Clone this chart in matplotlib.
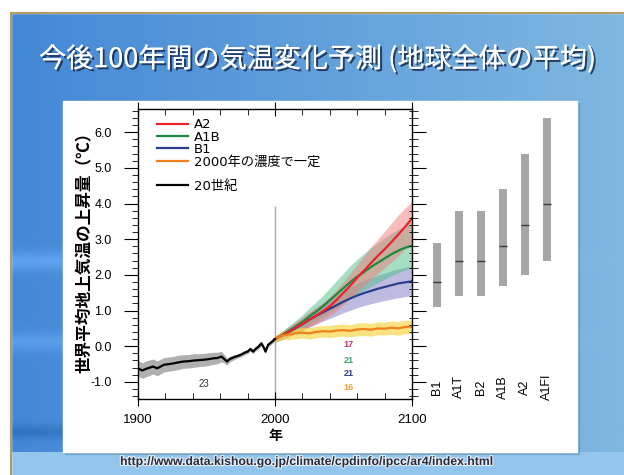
import numpy as np
import matplotlib
matplotlib.use("Agg")
import matplotlib.pyplot as plt
from matplotlib.patches import Rectangle
from matplotlib.ticker import MultipleLocator, FormatStrFormatter
import matplotlib.patheffects as pe

plt.rcParams['font.family'] = ['Liberation Sans', 'Noto Sans CJK JP']

# 20世紀の観測値 (1980-1999年平均からの偏差)
hist_years = [1900, 1903, 1907, 1911, 1914, 1919, 1923, 1926, 1930, 1933, 1937, 1941,
              1945, 1948, 1952, 1955, 1958, 1961, 1963, 1965, 1967, 1970, 1973, 1975,
              1978, 1980, 1982, 1984, 1986, 1988, 1990, 1992, 1993, 1995, 1997, 2000]
hist_mean = [-0.62, -0.68, -0.62, -0.57, -0.62, -0.52, -0.50, -0.48, -0.45, -0.43, -0.42, -0.40,
             -0.39, -0.38, -0.36, -0.34, -0.33, -0.29, -0.36, -0.43, -0.36, -0.31, -0.27, -0.24,
             -0.18, -0.15, -0.08, -0.15, -0.07, -0.01, 0.08, -0.05, -0.15, 0.04, 0.10, 0.20]
hist_spread = [0.22, 0.22, 0.22, 0.21, 0.21, 0.20, 0.20, 0.20, 0.20, 0.19, 0.19, 0.19,
               0.18, 0.18, 0.18, 0.17, 0.16, 0.15, 0.12, 0.10, 0.08, 0.07, 0.06, 0.06,
               0.06, 0.06, 0.06, 0.06, 0.06, 0.06, 0.06, 0.06, 0.06, 0.06, 0.06, 0.06]

# シナリオ別予測 (5年毎)
proj_years = [2000, 2005, 2010, 2015, 2020, 2025, 2030, 2035, 2040, 2045, 2050,
              2055, 2060, 2065, 2070, 2075, 2080, 2085, 2090, 2095, 2100]
a2_mean = [0.20, 0.30, 0.40, 0.52, 0.63, 0.75, 0.86, 0.98, 1.12, 1.30, 1.50,
           1.70, 1.92, 2.12, 2.33, 2.53, 2.72, 2.92, 3.13, 3.35, 3.58]
a2_low = [0.12, 0.18, 0.26, 0.36, 0.44, 0.54, 0.63, 0.74, 0.86, 1.00, 1.17,
          1.34, 1.52, 1.70, 1.87, 2.04, 2.20, 2.36, 2.54, 2.72, 2.92]
a2_high = [0.28, 0.40, 0.53, 0.67, 0.80, 0.95, 1.09, 1.23, 1.39, 1.59, 1.82,
           2.05, 2.30, 2.53, 2.78, 3.00, 3.22, 3.45, 3.68, 3.88, 4.05]
a1b_mean = [0.20, 0.31, 0.43, 0.55, 0.68, 0.83, 0.97, 1.12, 1.29, 1.46, 1.63,
            1.80, 1.95, 2.08, 2.22, 2.34, 2.46, 2.58, 2.68, 2.76, 2.82]
a1b_low = [0.12, 0.20, 0.29, 0.38, 0.48, 0.59, 0.70, 0.82, 0.95, 1.08, 1.21,
           1.34, 1.46, 1.57, 1.68, 1.78, 1.88, 1.98, 2.06, 2.14, 2.20]
a1b_high = [0.28, 0.42, 0.57, 0.72, 0.88, 1.07, 1.24, 1.42, 1.63, 1.84, 2.05,
            2.26, 2.44, 2.60, 2.76, 2.90, 3.04, 3.17, 3.28, 3.38, 3.46]
b1_mean = [0.20, 0.30, 0.40, 0.50, 0.62, 0.74, 0.85, 0.95, 1.05, 1.15, 1.25,
           1.34, 1.42, 1.49, 1.55, 1.61, 1.66, 1.71, 1.76, 1.79, 1.82]
b1_low = [0.12, 0.19, 0.27, 0.35, 0.44, 0.53, 0.62, 0.70, 0.78, 0.86, 0.94,
          1.01, 1.08, 1.14, 1.19, 1.24, 1.28, 1.32, 1.36, 1.39, 1.42]
b1_high = [0.28, 0.41, 0.53, 0.66, 0.80, 0.94, 1.08, 1.20, 1.32, 1.44, 1.56,
           1.67, 1.77, 1.85, 1.92, 1.99, 2.05, 2.11, 2.17, 2.21, 2.25]
commit_mean = [0.20, 0.30, 0.33, 0.36, 0.38, 0.36, 0.40, 0.42, 0.41, 0.44, 0.45,
               0.43, 0.47, 0.48, 0.46, 0.50, 0.49, 0.52, 0.50, 0.54, 0.55]
commit_spread = [0.08, 0.12, 0.14, 0.15, 0.15, 0.16, 0.16, 0.16, 0.17, 0.17, 0.17,
                 0.17, 0.18, 0.18, 0.18, 0.18, 0.18, 0.19, 0.19, 0.19, 0.19]

# モデル数
model_counts = [17, 21, 21, 16]
hist_count = 23

# 2100年の予測幅 (棒グラフ)
scen_names = ['B1', 'A1T', 'B2', 'A1B', 'A2', 'A1FI']
scen_best = [1.8, 2.4, 2.4, 2.8, 3.4, 4.0]
scen_low = [1.1, 1.4, 1.4, 1.7, 2.0, 2.4]
scen_high = [2.9, 3.8, 3.8, 4.4, 5.4, 6.4]

W, H = 624, 475
fig = plt.figure(figsize=(W / 100, H / 100), dpi=100)

# スライドの背景
bg = fig.add_axes([0, 0, 1, 1])
xx = np.linspace(0, 1, W)[None, :, None]
yy = np.linspace(0, 1, H)[:, None, None]
left_c = np.array([0.26, 0.53, 0.84])
right_c = np.array([0.50, 0.72, 0.88])
img = left_c * (1 - xx) + right_c * xx + 0.0 * yy
img = img + 0.10 * np.exp(-((yy - 0.55) / 0.02) ** 2) * (1 - xx)
img = img + 0.08 * np.exp(-((yy - 0.72) / 0.02) ** 2) * (1 - xx)
img = img - 0.08 * np.exp(-((yy - 0.91) / 0.015) ** 2) * (1 - xx)
img = np.where(yy > 452 / H, np.array([0.58, 0.78, 0.93]), img)
img = np.clip(img, 0, 1)
bg.imshow(img, extent=[0, W, H, 0], aspect='auto')
bg.add_patch(Rectangle((0, 0), W, 13, color='white'))
bg.add_patch(Rectangle((0, 0), 11, H, color='white'))
bg.plot([11, 11], [13, H], color='#b39b62', lw=1.5)
bg.plot([11, W], [13, 13], color='#b39b62', lw=1.5)
bg.add_patch(Rectangle((65, 103), 514, 351, color='#5a7fa0', alpha=0.35))
bg.add_patch(Rectangle((63, 101), 514, 351, color='white'))
bg.set_xlim(0, W)
bg.set_ylim(H, 0)
bg.axis('off')

bg.text(318, 59, '今後100年間の気温変化予測 (地球全体の平均)', color='white',
        fontsize=19.5, ha='center', va='center', family=['Noto Sans CJK JP'],
        path_effects=[pe.withSimplePatchShadow(offset=(1.5, -1.5), shadow_rgbFace='#1c2f55', alpha=0.9),
                      pe.Normal()])
bg.text(308, 462, 'http://www.data.kishou.go.jp/climate/cpdinfo/ipcc/ar4/index.html',
        color='#2a2a3a', fontsize=8.8, ha='center', va='center', weight='bold',
        path_effects=[pe.withStroke(linewidth=1.5, foreground='#e8f2fa')])

# 気温の推移
ax = fig.add_axes([138 / W, (H - 399) / H, 274 / W, 290 / H])
ax.set_facecolor('none')
ax.fill_between(hist_years, np.array(hist_mean) - hist_spread, np.array(hist_mean) + hist_spread,
                color='#8f8f8f', alpha=0.7, lw=0)
ax.fill_between(proj_years, b1_low, b1_high, color='#8886c8', alpha=0.55, lw=0)
ax.fill_between(proj_years, a1b_low, a1b_high, color='#4cbf86', alpha=0.5, lw=0)
ax.fill_between(proj_years, a2_low, a2_high, color='#f07c7c', alpha=0.5, lw=0)
ax.fill_between(proj_years, np.array(commit_mean) - commit_spread, np.array(commit_mean) + commit_spread,
                color='#f6d84a', alpha=0.7, lw=0)

ax.plot(proj_years, b1_mean, color='#2b3e8c', lw=1.6)
ax.plot(proj_years, a1b_mean, color='#1b8a3f', lw=1.6)
ax.plot(proj_years, a2_mean, color='#e8232b', lw=1.6)
ax.plot(proj_years, commit_mean, color='#f07f1c', lw=1.6)
ax.plot(hist_years, hist_mean, color='black', lw=1.6)

ax.axvline(2000, ymax=(3.9 + 1.48) / (6.65 + 1.48), color='#a8a8a8', lw=1.0, zorder=0)

ax.set_xlim(1900, 2100)
ax.set_ylim(-1.48, 6.65)
ax.set_xticks([1900, 2000, 2100])
ax.xaxis.set_minor_locator(MultipleLocator(20))
ax.yaxis.set_major_locator(MultipleLocator(1.0))
ax.yaxis.set_minor_locator(MultipleLocator(0.2))
ax.yaxis.set_major_formatter(FormatStrFormatter('%.1f'))
ax.set_yticks(np.arange(-1, 6.5, 1.0))
ax.tick_params(axis='x', which='major', direction='inout', length=10, top=True, bottom=True,
               labelsize=9.5, pad=6)
ax.tick_params(axis='x', which='minor', direction='in', length=4, top=True, bottom=True)
ax.tick_params(axis='y', which='major', direction='out', length=10, left=True, right=True,
               labelsize=9, pad=9)
ax.tick_params(axis='y', which='minor', direction='out', length=4, left=True, right=True)
for s in ax.spines.values():
    s.set_linewidth(1.0)

ax.set_xlabel('年', fontsize=10, weight='bold', labelpad=2)
ax.set_ylabel('世界平均地上気温の上昇量（℃）', fontsize=12, weight='bold')
ax.yaxis.set_label_coords(-0.165, 0.52)

cnt_colors = ['#c8345a', '#3aa870', '#2f3f80', '#f0a030']
cnt_y = [0.04, -0.40, -0.76, -1.15]
for n, c, yv in zip(model_counts, cnt_colors, cnt_y):
    ax.text(2054, yv, str(n), color=c, fontsize=6.5, ha='center', va='center', weight='bold')
ax.text(1948, -1.06, str(hist_count), color='#333333', fontsize=7, ha='center', va='center')

# 凡例
leg_prop = {'family': ['DejaVu Sans', 'Noto Sans CJK JP'], 'size': 9.5}
handles = [plt.Line2D([], [], color='#e8232b', lw=1.6),
           plt.Line2D([], [], color='#1b8a3f', lw=1.6),
           plt.Line2D([], [], color='#2b3e8c', lw=1.6),
           plt.Line2D([], [], color='#f07f1c', lw=1.6),
           plt.Line2D([], [], color='none'),
           plt.Line2D([], [], color='black', lw=1.6)]
labels = ['A2', 'A1B', 'B1', '2000年の濃度で一定', ' ', '20世紀']
ax.legend(handles, labels, loc='upper left', bbox_to_anchor=(0.035, 1.0), frameon=False,
          prop=leg_prop, handlelength=2.4, handletextpad=0.4, labelspacing=-0.05,
          borderaxespad=0.3)

# 2100年の予測幅
ax2 = fig.add_axes([412 / W, (H - 399) / H, 157 / W, 290 / H], sharey=ax)
ax2.set_facecolor('none')
xpos = np.arange(len(scen_names))
ax2.bar(xpos, np.array(scen_high) - np.array(scen_low), bottom=scen_low, width=0.36,
        color='#a6a6a6', lw=0)
ax2.hlines(scen_best, xpos - 0.18, xpos + 0.18, color='#3a3a3a', lw=1.0)
for i, name in enumerate(scen_names):
    ax2.text(i, -1.14, name, rotation=90, ha='center', va='center', fontsize=9)
ax2.set_xlim(-1.15, 6.0)
for s in ax2.spines.values():
    s.set_visible(False)
ax2.tick_params(left=False, labelleft=False, bottom=False, labelbottom=False)

fig.savefig('out.png', dpi=100)
